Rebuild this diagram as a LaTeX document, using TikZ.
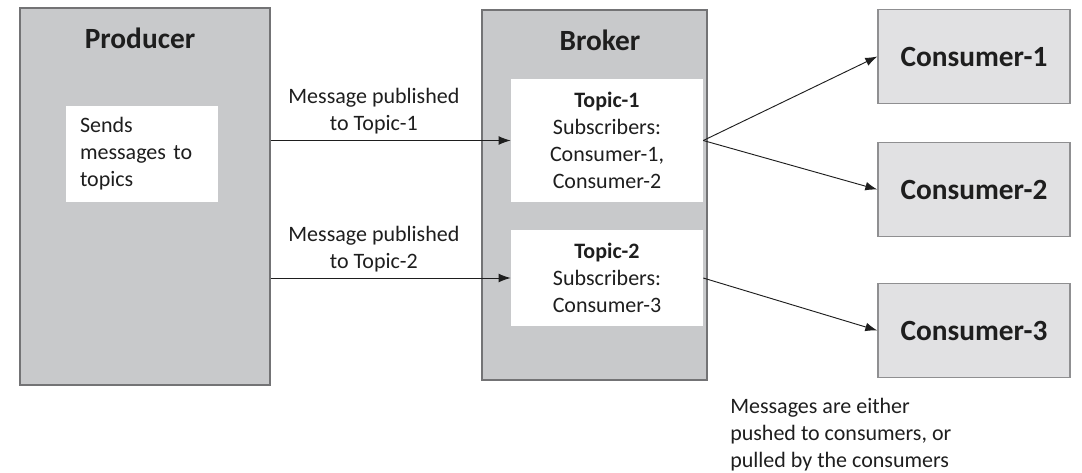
\documentclass[tikz,border=0pt]{standalone}
\usepackage{fontspec}
\setmainfont{Carlito}
\usetikzlibrary{arrows.meta}
\definecolor{boxgrey}{RGB}{200,201,203}
\definecolor{lightgrey}{RGB}{225,225,227}
\definecolor{edgegrey}{RGB}{115,115,117}
\definecolor{inkcol}{RGB}{30,30,30}
\tikzset{
  bigbox/.style={draw=edgegrey, line width=1.1pt, fill=boxgrey},
  whitebox/.style={fill=white, inner sep=0pt},
  consbox/.style={draw=edgegrey!80, line width=1pt, fill=lightgrey, minimum width=144pt, minimum height=70.5pt, font=\fontsize{22}{26}\selectfont\bfseries},
  msg/.style={font=\fontsize{16.5}{20.25}\selectfont, align=center, text=inkcol},
  link/.style={draw=inkcol, line width=0.7pt, -{Latex[length=9pt,width=6.5pt]}}
}
\begin{document}
\begin{tikzpicture}[x=0.75pt,y=0.75pt,yscale=-1,xscale=1,text=inkcol]
\useasboundingbox (0,0) rectangle (1082,472);

%Shape: Rectangle [producer]
\node[bigbox, minimum width=187.5pt, minimum height=282.75pt] (prod) at (145,196.5) {};
\node[font=\fontsize{22}{26}\selectfont\bfseries] (prodtitle) at (140,38) {Producer};
\node[whitebox, minimum width=114pt, minimum height=72pt, msg, align=left, text width=93pt, inner xsep=10.5pt] (sends) at (142,154) {Sends\\messages to\\topics};

%Shape: Rectangle [broker]
\node[bigbox, minimum width=168.75pt, minimum height=277.5pt] (broker) at (594.5,195) {};
\node[font=\fontsize{22}{26}\selectfont\bfseries] (brokertitle) at (600,40) {Broker};
\node[whitebox, minimum width=144pt, minimum height=92.25pt, msg] (t1) at (607,140.5) {\textbf{Topic-1}\\Subscribers:\\Consumer-1,\\Consumer-2};
\node[whitebox, minimum width=144pt, minimum height=72pt, msg] (t2) at (607,278) {\textbf{Topic-2}\\Subscribers:\\Consumer-3};

%Shape: Rectangle [consumers]
\node[consbox] (c1) at (974,56.5) {Consumer-1};
\node[consbox] (c2) at (974,189.5) {Consumer-2};
\node[consbox] (c3) at (974,330.5) {Consumer-3};

%Straight Lines [publish]
\draw[link] (prod.east |- t1.west) -- node[msg, above=1pt, pos=0.43] (pub1) {Message published\\to Topic-1} (t1.west);
\draw[link] (prod.east |- t2.west) -- node[msg, above=1pt, pos=0.43] (pub2) {Message published\\to Topic-2} (t2.west);

%Straight Lines [deliver]
\draw[link] (t1.east) -- (c1.west);
\draw[link] (t1.east) -- (c2.west);
\draw[link] (t2.east) -- (c3.west);

% Text Node
\node[msg, align=left, anchor=north west, inner sep=0pt] (note) at (730,398) {Messages are either\\pushed to consumers, or\\pulled by the consumers};

\end{tikzpicture}
\end{document}
